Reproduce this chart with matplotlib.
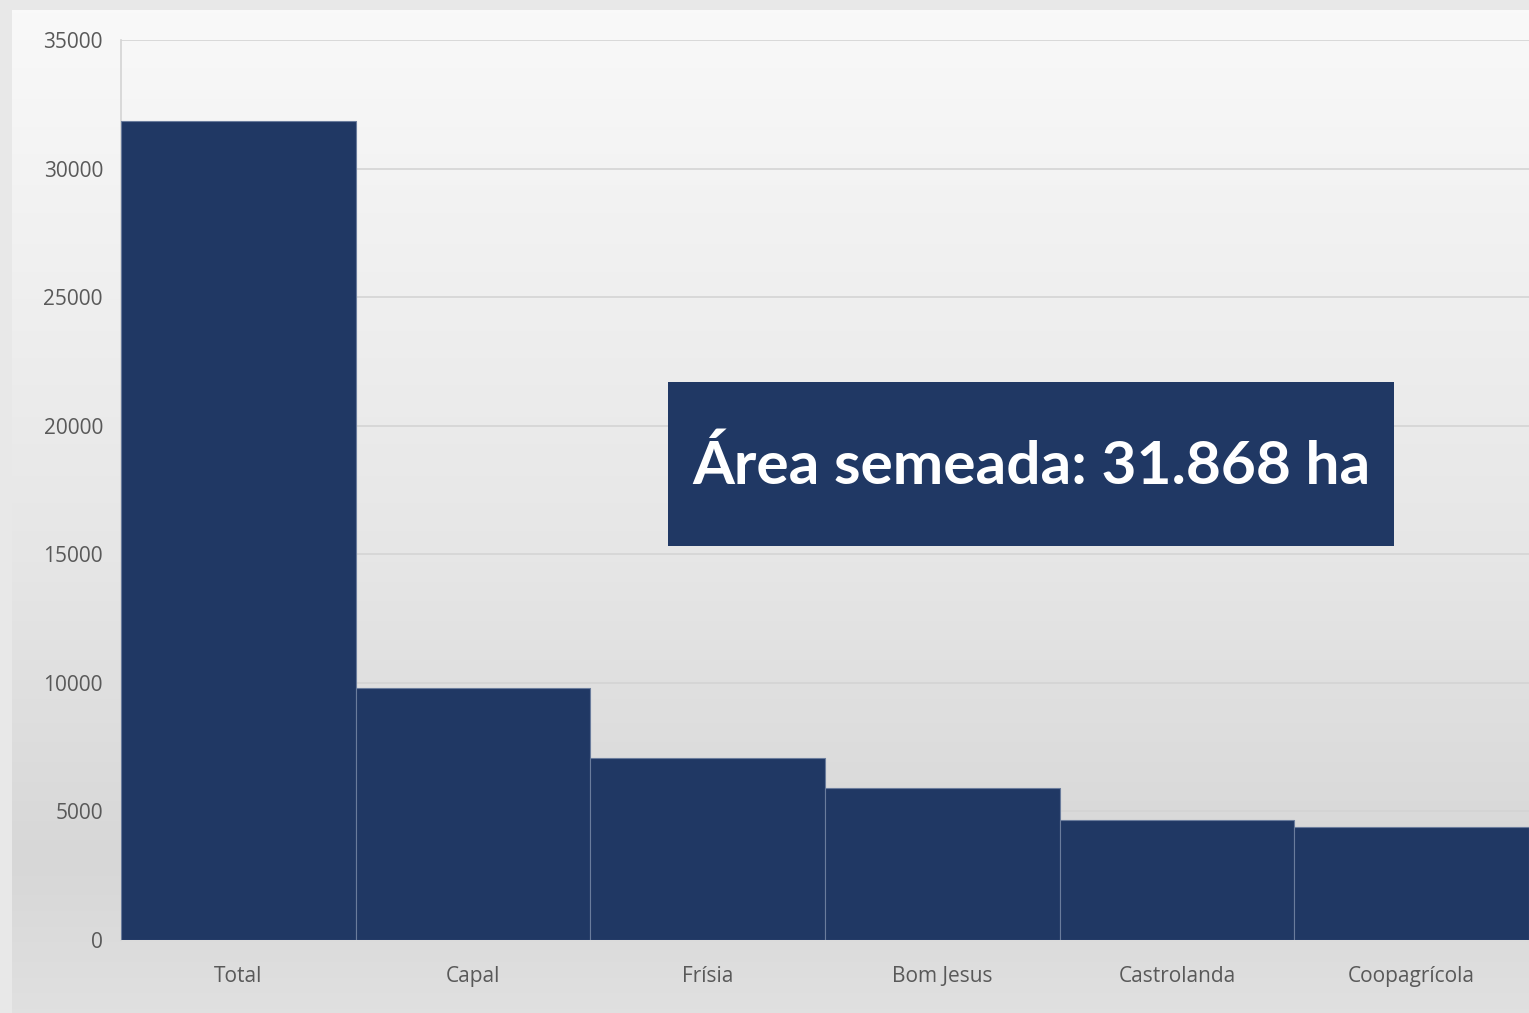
import matplotlib
matplotlib.use("Agg")
import matplotlib.pyplot as plt
import numpy as np
from matplotlib.patches import Rectangle
from matplotlib.colors import LinearSegmentedColormap

categories = ["Total", "Capal", "Frísia", "Bom Jesus", "Castrolanda", "Coopagrícola"]
values = [31868, 9800, 7070, 5910, 4660, 4390]
yticks = [0, 5000, 10000, 15000, 20000, 25000, 30000, 35000]
box_text = "Área semeada: 31.868 ha"

W, H = 1529, 1013
fig = plt.figure(figsize=(W / 100, H / 100), dpi=100)
fig.patch.set_facecolor("#e8e8e8")

# gradient panel
bg = fig.add_axes([12 / W, 0, 1 - 12 / W, 1 - 10 / H], zorder=0)
cmap = LinearSegmentedColormap.from_list(
    "g", [(0.0, "#f9f9f9"), (0.55, "#e6e6e6"), (0.85, "#d7d7d7"), (1.0, "#e0e0e0")])
grad = np.linspace(0, 1, 256).reshape(-1, 1)
bg.imshow(grad, aspect="auto", cmap=cmap, extent=[0, 1, 0, 1], origin="upper")
bg.set_axis_off()

ax = fig.add_axes([121 / W, 1 - 940 / H, 1 - 121 / W, (940 - 40) / H], zorder=1)
ax.patch.set_alpha(0)
x = np.arange(len(categories))
ax.bar(x, values, width=1.0, color="#203864", edgecolor="#6a7c9c", linewidth=0.8, zorder=3)
ax.set_xlim(-0.5, len(categories) - 0.5)
ax.set_ylim(0, 35000)
ax.set_yticks(yticks)
ax.set_yticklabels([str(v) for v in yticks])
ax.set_xticks(x)
ax.set_xticklabels(categories)
ax.yaxis.grid(True, color="#d4d4d4", linewidth=1.2, zorder=0)
ax.set_axisbelow(True)
for s in ["top", "right", "bottom"]:
    ax.spines[s].set_visible(False)
ax.spines["left"].set_color("#d4d4d4")
ax.spines["left"].set_linewidth(1.2)
ax.tick_params(axis="both", length=0, labelsize=15, labelcolor="#595959")
ax.tick_params(axis="y", pad=13)
ax.tick_params(axis="x", pad=19)
for lab in ax.get_xticklabels() + ax.get_yticklabels():
    lab.set_family("Open Sans")

# text box
fig.patches.append(Rectangle((668 / W, 1 - 546 / H), (1394 - 668) / W, (546 - 382) / H,
                             transform=fig.transFigure, facecolor="#203864",
                             edgecolor="none", zorder=5))
fig.text(1031 / W, 1 - 466 / H, box_text, ha="center", va="center", color="white",
         fontsize=43.5, fontweight="bold", family="Lato", zorder=6)

fig.savefig("out.png", dpi=100, facecolor=fig.get_facecolor())
